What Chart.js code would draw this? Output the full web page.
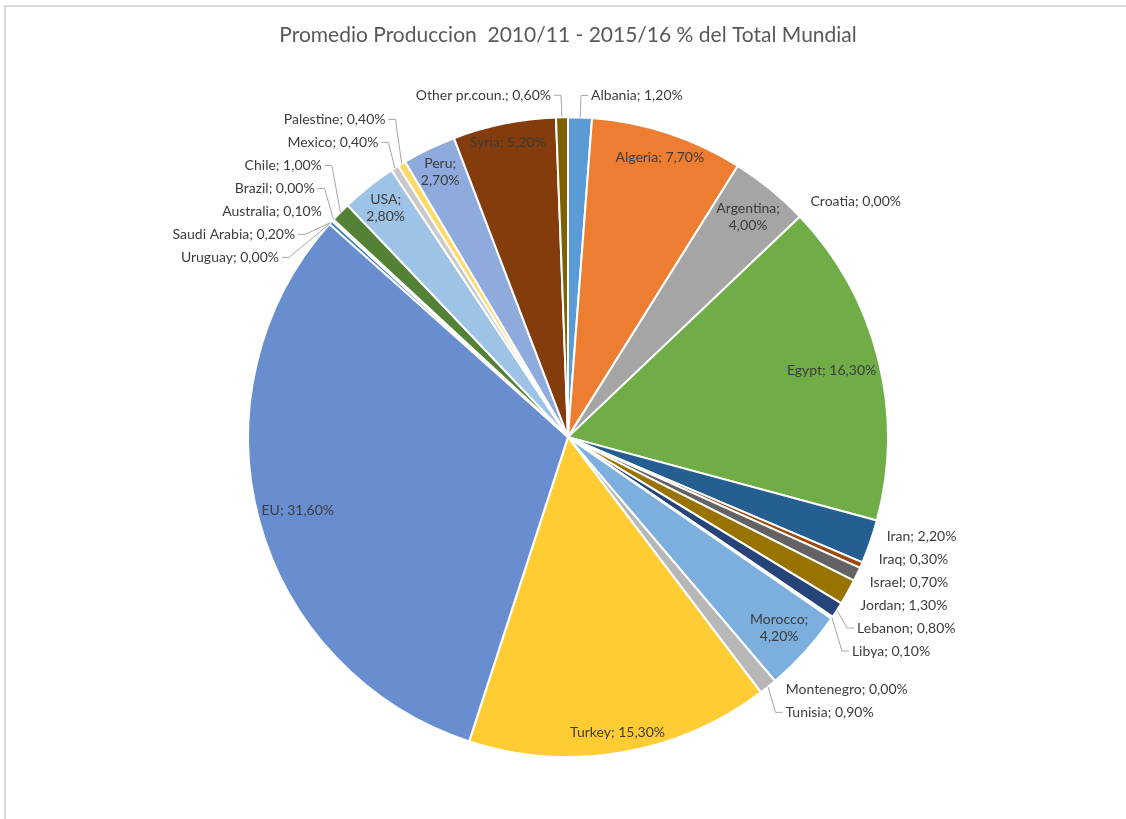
<!DOCTYPE html>
<html>
<head>
<meta charset="utf-8">
<script src="https://cdn.jsdelivr.net/npm/chart.js@4.4.1/dist/chart.umd.min.js"></script>
<style>
  html, body { margin: 0; padding: 0; background: #fff; overflow: hidden; }
  #frame { position: absolute; left: 4px; top: 5px; width: 1124px; height: 812px;
           border-left: 2px solid #d9d9d9; border-top: 2px solid #d9d9d9; }
  canvas { display: block; }
</style>
</head>
<body>
<div id="frame"><canvas id="pie" width="1124" height="812"></canvas></div>
<script>
var countries = ['Albania', 'Algeria', 'Argentina', 'Croatia', 'Egypt', 'Iran', 'Iraq', 'Israel',
    'Jordan', 'Lebanon', 'Libya', 'Morocco', 'Montenegro', 'Tunisia', 'Turkey', 'EU', 'Uruguay',
    'Saudi Arabia', 'Australia', 'Brazil', 'Chile', 'USA', 'Mexico', 'Palestine', 'Peru', 'Syria',
    'Other pr.coun.'];
var shares = [1.2, 7.7, 4.0, 0.0, 16.3, 2.2, 0.3, 0.7, 1.3, 0.8, 0.1, 4.2, 0.0, 0.9, 15.3, 31.6, 0.0,
    0.2, 0.1, 0.0, 1.0, 2.8, 0.4, 0.4, 2.7, 5.2, 0.6];
var sliceColors = ['#5B9BD5', '#ED7D31', '#A5A5A5', '#FFC000', '#70AD47', '#255E91', '#9E480E', '#636363',
    '#997300', '#264478', '#43682B', '#7CAFDD', '#F1975A', '#B7B7B7', '#FFCD33', '#698ED0', '#8CC168',
    '#327DC2', '#D26012', '#848484', '#538135', '#9DC3E6', '#C9C9C9', '#FFD966', '#8FAADC', '#843C0C',
    '#7F6000'];

var FONT = '14px Lato';
var LINE = 17;   // step between the two lines of a wrapped label
var ROW = 23;    // min distance between outside labels

function pctText(v) {
    return v.toFixed(2).replace('.', ',') + '%';
}

// push overlapping labels apart, keeping each clump centred on where it wants to be
function spread(items) {
    items.sort(function (a, b) { return a.yNat - b.yNat; });
    var groups = items.map(function (it) { return { items: [it], top: it.yNat }; });
    var merged = true;
    while (merged) {
        merged = false;
        for (var i = 0; i < groups.length - 1; i++) {
            var a = groups[i], b = groups[i + 1];
            if (a.top + a.items.length * ROW > b.top) {
                var all = a.items.concat(b.items);
                var mean = all.reduce(function (s, it) { return s + it.yNat; }, 0) / all.length;
                groups.splice(i, 2, { items: all, top: mean - (all.length - 1) * ROW / 2 });
                merged = true;
                break;
            }
        }
    }
    groups.forEach(function (g) {
        g.items.forEach(function (it, k) { it.y = g.top + k * ROW; });
    });
}

var pieLabels = {
    id: 'pieLabels',
    afterDatasetsDraw: function (chart) {
        var ctx = chart.ctx;
        var arcs = chart.getDatasetMeta(0).data;
        ctx.save();
        ctx.font = FONT;
        ctx.fillStyle = '#3c3c3c';
        ctx.textBaseline = 'middle';
        var outside = { left: [], right: [] };

        arcs.forEach(function (arc, i) {
            var p = arc.getProps(['x', 'y', 'startAngle', 'endAngle', 'outerRadius'], true);
            var mid = (p.startAngle + p.endAngle) / 2;
            var cos = Math.cos(mid), sin = Math.sin(mid);
            var r = p.outerRadius;
            var v = shares[i];
            if (v >= 2.5) {
                // inside label, pushed out as far as the slice edge allows
                var lines = v < 5 ? [countries[i] + ';', pctText(v)] : [countries[i] + '; ' + pctText(v)];
                var w = Math.max.apply(null, lines.map(function (t) { return ctx.measureText(t).width; }));
                var h = 12 + (lines.length - 1) * LINE;
                var lx, ly;
                for (var f = 0.98; f > 0.3; f -= 0.005) {
                    lx = p.x + f * r * cos;
                    ly = p.y + f * r * sin;
                    var ok = [[-1, -1], [1, -1], [-1, 1], [1, 1]].every(function (c) {
                        return Math.hypot(lx + c[0] * w / 2 - p.x, ly + c[1] * h / 2 - p.y) <= r - 3;
                    });
                    if (ok) break;
                }
                ctx.textAlign = 'center';
                lines.forEach(function (t, k) {
                    ctx.fillText(t, lx, ly + (k - (lines.length - 1) / 2) * LINE);
                });
            } else {
                var g = r + 12;
                outside[cos >= 0 ? 'right' : 'left'].push({
                    text: countries[i] + '; ' + pctText(v),
                    ax: p.x + r * cos, ay: p.y + r * sin,
                    px: p.x + g * cos,
                    yNat: p.y + g * sin + 10 * sin,
                    cx: p.x, cy: p.y, R: g
                });
            }
        });

        ['left', 'right'].forEach(function (side) {
            var items = outside[side];
            spread(items);
            var dir = side === 'right' ? 1 : -1;
            items.forEach(function (it) {
                var w = ctx.measureText(it.text).width;
                var dy = it.y - it.cy;
                var edge = it.px;
                if (Math.abs(dy) < it.R) {
                    var circ = it.cx + dir * Math.sqrt(it.R * it.R - dy * dy);
                    edge = dir > 0 ? Math.max(edge, circ) : Math.min(edge, circ);
                }
                edge += dir * 2;
                var bx0 = dir > 0 ? edge : edge - w, bx1 = bx0 + w;
                var ddx = Math.max(bx0 - it.ax, 0, it.ax - bx1);
                if (Math.abs(it.y - it.ay) > 15.5 || ddx > 20) {
                    // leader line: slant from the slice, short level tick into the text
                    edge += dir * 8;
                    edge = dir > 0 ? Math.max(edge, it.ax + 11) : Math.min(edge, it.ax - 11);
                    var tx = edge - dir * 3;
                    ctx.beginPath();
                    ctx.moveTo(it.ax, it.ay);
                    ctx.lineTo(tx - dir * 7, it.y);
                    ctx.lineTo(tx, it.y);
                    ctx.strokeStyle = '#a6a6a6';
                    ctx.lineWidth = 1;
                    ctx.stroke();
                }
                ctx.textAlign = dir > 0 ? 'left' : 'right';
                ctx.fillText(it.text, edge, it.y);
            });
        });
        ctx.restore();
    }
};

var canvas = document.getElementById('pie');
new Chart(canvas, {
    type: 'pie',
    data: {
        labels: countries,
        datasets: [{
            data: shares,
            backgroundColor: sliceColors,
            borderColor: '#ffffff',
            borderWidth: 2,
            hoverBorderWidth: 2,
            hoverOffset: 0,
            offset: 0
        }]
    },
    options: {
        responsive: false,
        animation: false,
        events: [],
        layout: { padding: { top: 0, bottom: 61, left: 0, right: 0 } },
        plugins: {
            legend: { display: false },
            tooltip: { enabled: false },
            title: {
                display: true,
                text: 'Promedio Produccion  2010/11 - 2015/16 % del Total Mundial',
                color: '#595959',
                font: { family: 'Lato', size: 21, weight: 'normal', lineHeight: 1.2 },
                padding: { top: 16, bottom: 68 }
            }
        }
    },
    plugins: [pieLabels]
});
</script>
</body>
</html>
